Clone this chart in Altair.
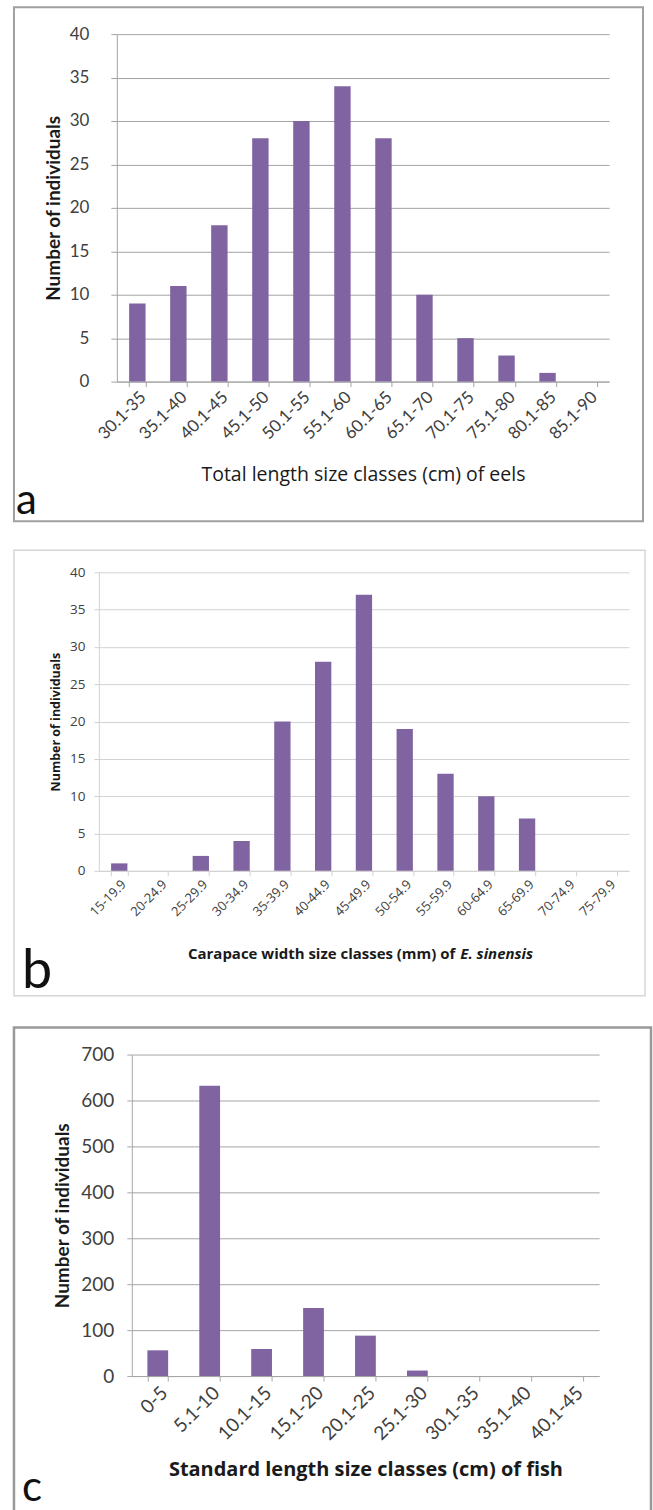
import altair as alt
import pandas as pd

# Size-class frequencies for the three samples
eel_classes = ["30.1-35", "35.1-40", "40.1-45", "45.1-50", "50.1-55", "55.1-60",
               "60.1-65", "65.1-70", "70.1-75", "75.1-80", "80.1-85", "85.1-90"]
eel_counts = [9, 11, 18, 28, 30, 34, 28, 10, 5, 3, 1, 0]

crab_classes = ["15-19.9", "20-24.9", "25-29.9", "30-34.9", "35-39.9", "40-44.9", "45-49.9",
                "50-54.9", "55-59.9", "60-64.9", "65-69.9", "70-74.9", "75-79.9"]
crab_counts = [1, 0, 2, 4, 20, 28, 37, 19, 13, 10, 7, 0, 0]

fish_classes = ["0-5", "5.1-10", "10.1-15", "15.1-20", "20.1-25", "25.1-30",
                "30.1-35", "35.1-40", "40.1-45"]
fish_counts = [56, 632, 59, 148, 88, 12, 0, 0, 0]

FONT = "Lato"
WIDE_FONT = "Open Sans"
PURPLE = "#8064A2"
LABEL_GRAY = "#404040"
TITLE_COLOR = "#1a1a1a"


def panel(classes, counts, *, box_h, left, right, top, bottom, y_max, y_step,
          grid_color, label_font, ylabel_size, xlabel_size, xlabel_angle, ylabel_pad,
          tick_size, ytitle_font, ytitle_size, ytitle_pad, xtitle, xtitle_size,
          xtitle_weight, xtitle_pad, letter, letter_size, letter_x, letter_y):
    df = pd.DataFrame({"size_class": classes, "count": counts})
    x_axis = dict(
        orient="bottom", offset=-(box_h - bottom),
        labelAngle=xlabel_angle, tickBand="extent", grid=False,
        domainColor=grid_color, tickColor=grid_color, tickSize=5,
        labelFont=label_font, labelFontSize=xlabel_size, labelColor=LABEL_GRAY,
        labelPadding=2,
    )
    if xtitle:
        x_axis.update(
            title=xtitle, titleFont=WIDE_FONT, titleFontSize=xtitle_size,
            titleFontWeight=xtitle_weight, titleColor=TITLE_COLOR, titlePadding=xtitle_pad,
        )
    else:
        x_axis["title"] = ""
    x = alt.X(
        "size_class:N", sort=classes,
        scale=alt.Scale(range=[left, right], paddingInner=0.6, paddingOuter=0.3),
        axis=alt.Axis(**x_axis),
    )
    y = alt.Y(
        "count:Q",
        scale=alt.Scale(domain=[0, y_max], range=[bottom, top], nice=False),
        axis=alt.Axis(
            title="Number of individuals", orient="left", offset=-left,
            values=list(range(0, y_max + 1, y_step)), grid=True, gridColor=grid_color,
            domainColor=grid_color, tickColor=grid_color, tickSize=tick_size,
            labelFont=label_font, labelFontSize=ylabel_size, labelColor=LABEL_GRAY,
            labelPadding=ylabel_pad,
            titleFont=ytitle_font, titleFontSize=ytitle_size, titleFontWeight="bold",
            titleColor=TITLE_COLOR, titlePadding=ytitle_pad,
        ),
    )
    bars = alt.Chart(df).mark_bar(color=PURPLE).encode(x=x, y=y)
    tag = alt.Chart(pd.DataFrame({"t": [letter]})).mark_text(
        align="left", baseline="alphabetic", font=FONT, fontSize=letter_size, color="#111111"
    ).encode(x=alt.value(letter_x), y=alt.value(letter_y), text="t:N")
    return bars, tag


# a: eels
a_bars, a_tag = panel(
    eel_classes, eel_counts, box_h=515, left=103, right=596, top=27, bottom=375,
    y_max=40, y_step=5, grid_color="#a3a3a3", label_font=FONT,
    ylabel_size=17, xlabel_size=17, xlabel_angle=-45, ylabel_pad=22, tick_size=6,
    ytitle_font=FONT, ytitle_size=19, ytitle_pad=6,
    xtitle="Total length size classes (cm) of eels", xtitle_size=19.5, xtitle_weight="normal",
    xtitle_pad=24, letter="a", letter_size=42, letter_x=2, letter_y=508,
)
panel_a = alt.layer(a_bars, a_tag).properties(
    width=630, height=515, view=alt.ViewBackground(stroke="#a0a0a0", strokeWidth=2)
)

# b: mitten crabs (carapace width); x title drawn as two runs for the italic species name
b_bars, b_tag = panel(
    crab_classes, crab_counts, box_h=446, left=85, right=616, top=22, bottom=321,
    y_max=40, y_step=5, grid_color="#d2d2d2", label_font=WIDE_FONT,
    ylabel_size=13.5, xlabel_size=13, xlabel_angle=-45, ylabel_pad=9, tick_size=5,
    ytitle_font=WIDE_FONT, ytitle_size=12.5, ytitle_pad=7,
    xtitle="", xtitle_size=15, xtitle_weight="bold", xtitle_pad=10,
    letter="b", letter_size=54, letter_x=8, letter_y=438,
)
b_title_main = alt.Chart(pd.DataFrame({"t": ["Carapace width size classes (mm) of"]})).mark_text(
    align="right", baseline="middle", font=WIDE_FONT, fontSize=15, fontWeight="bold",
    color=TITLE_COLOR
).encode(x=alt.value(442), y=alt.value(404), text="t:N")
b_title_species = alt.Chart(pd.DataFrame({"t": ["E. sinensis"]})).mark_text(
    align="left", baseline="middle", font=WIDE_FONT, fontSize=15, fontWeight="bold",
    fontStyle="italic", color=TITLE_COLOR
).encode(x=alt.value(447), y=alt.value(404), text="t:N")
panel_b = alt.layer(b_bars, b_tag, b_title_main, b_title_species).properties(
    width=632, height=446, view=alt.ViewBackground(stroke="#d6d6d6", strokeWidth=1.5)
)

# c: fish standard length
c_bars, c_tag = panel(
    fish_classes, fish_counts, box_h=490, left=118, right=586, top=27, bottom=349,
    y_max=700, y_step=100, grid_color="#a6a6a6", label_font=FONT,
    ylabel_size=19, xlabel_size=19, xlabel_angle=-45, ylabel_pad=13, tick_size=5,
    ytitle_font=FONT, ytitle_size=19, ytitle_pad=8,
    xtitle="Standard length size classes (cm) of fish", xtitle_size=20, xtitle_weight="bold",
    xtitle_pad=16, letter="c", letter_size=42, letter_x=8, letter_y=474,
)
panel_c = alt.layer(c_bars, c_tag).properties(
    width=638, height=490, view=alt.ViewBackground(stroke="#999999", strokeWidth=2.5)
)

chart = alt.vconcat(panel_a, panel_b, panel_c, spacing=26).properties(
    padding={"left": 12, "top": 5, "right": 0, "bottom": 0},
    background="white",
)

chart.save("out.html", embed_options={"renderer": "svg", "actions": False})
